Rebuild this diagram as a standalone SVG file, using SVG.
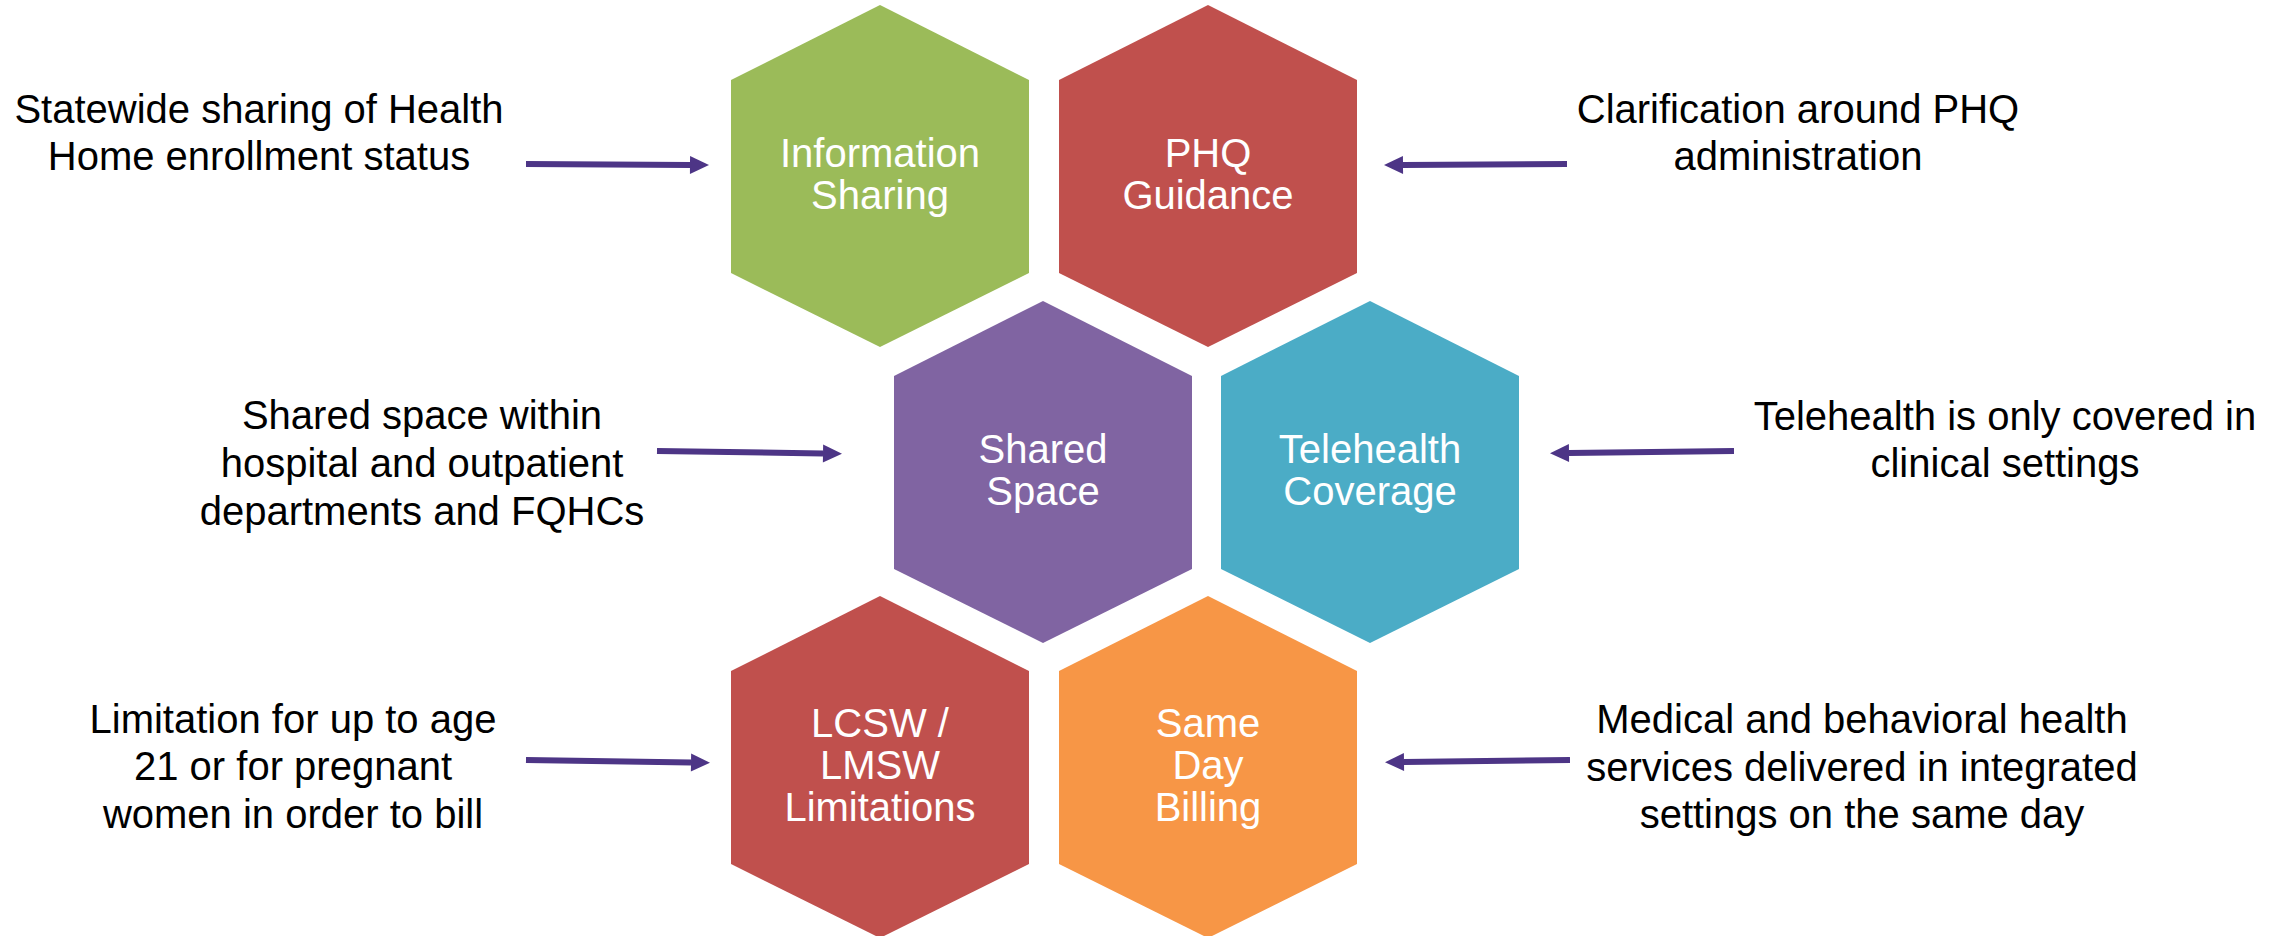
<svg xmlns="http://www.w3.org/2000/svg" width="2285" height="936" viewBox="0 0 2285 936">
<style>
.hex text{font-family:"Liberation Sans",Arial,sans-serif;font-size:40px;fill:#ffffff;text-anchor:middle}
.lbl text{font-family:"Liberation Sans",Arial,sans-serif;font-size:40px;fill:#000000;text-anchor:middle}
.conn line{stroke:#4D3586;stroke-width:6;fill:none;marker-end:url(#ah)}
</style>
<defs>
<polygon id="hx" points="0,0 149,75 149,268 0,342 -149,268 -149,75"/>
<marker id="ah" markerUnits="userSpaceOnUse" markerWidth="20" markerHeight="18" refX="0" refY="9" orient="auto" overflow="visible">
<path d="M0,0 L19,9 L0,18 Z" fill="#4D3586"/>
</marker>
</defs>
<rect width="2285" height="936" fill="#ffffff"/>
<g id="hex-information-sharing" class="hex">
<use href="#hx" x="880" y="5" fill="#9BBB59"/>
<text x="880" y="167">Information</text>
<text x="880" y="209">Sharing</text>
</g>
<g id="hex-phq-guidance" class="hex">
<use href="#hx" x="1208" y="5" fill="#C0504D"/>
<text x="1208" y="167">PHQ</text>
<text x="1208" y="209">Guidance</text>
</g>
<g id="hex-shared-space" class="hex">
<use href="#hx" x="1043" y="301" fill="#8064A2"/>
<text x="1043" y="463">Shared</text>
<text x="1043" y="505">Space</text>
</g>
<g id="hex-telehealth" class="hex">
<use href="#hx" x="1370" y="301" fill="#4BACC6"/>
<text x="1370" y="463">Telehealth</text>
<text x="1370" y="505">Coverage</text>
</g>
<g id="hex-lcsw" class="hex">
<use href="#hx" x="880" y="596" fill="#C0504D"/>
<text x="880" y="737">LCSW /</text>
<text x="880" y="779">LMSW</text>
<text x="880" y="821">Limitations</text>
</g>
<g id="hex-same-day" class="hex">
<use href="#hx" x="1208" y="596" fill="#F79646"/>
<text x="1208" y="737">Same</text>
<text x="1208" y="779">Day</text>
<text x="1208" y="821">Billing</text>
</g>
<g id="note-statewide" class="lbl">
<text x="259" y="123">Statewide sharing of Health</text>
<text x="259" y="170">Home enrollment status</text>
</g>
<g id="note-phq" class="lbl">
<text x="1798" y="123">Clarification around PHQ</text>
<text x="1798" y="170">administration</text>
</g>
<g id="note-shared" class="lbl">
<text x="422" y="429">Shared space within</text>
<text x="422" y="477">hospital and outpatient</text>
<text x="422" y="525">departments and FQHCs</text>
</g>
<g id="note-telehealth" class="lbl">
<text x="2005" y="430">Telehealth is only covered in</text>
<text x="2005" y="477">clinical settings</text>
</g>
<g id="note-limitation" class="lbl">
<text x="293" y="733">Limitation for up to age</text>
<text x="293" y="780">21 or for pregnant</text>
<text x="293" y="828">women in order to bill</text>
</g>
<g id="note-medical" class="lbl">
<text x="1862" y="733">Medical and behavioral health</text>
<text x="1862" y="781">services delivered in integrated</text>
<text x="1862" y="828">settings on the same day</text>
</g>
<g id="connectors" class="conn">
<line x1="526" y1="164" x2="690" y2="165"/>
<line x1="1567" y1="164" x2="1403" y2="165"/>
<line x1="657" y1="451" x2="823" y2="453.5"/>
<line x1="1734" y1="451" x2="1569" y2="453"/>
<line x1="526" y1="760" x2="691" y2="762.5"/>
<line x1="1570" y1="760" x2="1404" y2="762"/>
</g>
</svg>
